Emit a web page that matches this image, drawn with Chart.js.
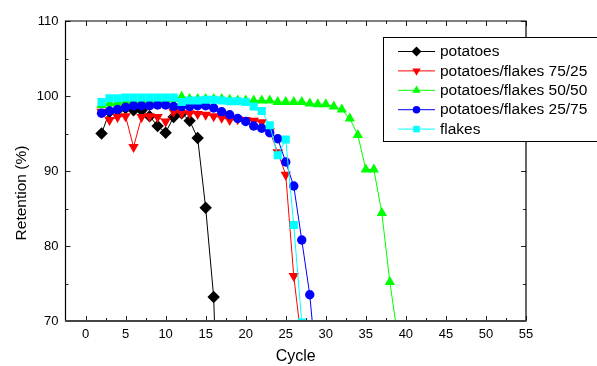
<!DOCTYPE html>
<html>
<head>
<meta charset="utf-8">
<script src="https://cdn.jsdelivr.net/npm/chart.js@4/dist/chart.umd.min.js"></script>
<style>
html,body{margin:0;padding:0;background:#fff;}
canvas{display:block;}
</style>
</head>
<body>
<canvas id="c" width="597" height="366"></canvas>
<script>
// ---- data ----
const seriesNames = ['potatoes', 'potatoes/flakes 75/25', 'potatoes/flakes 50/50', 'potatoes/flakes 25/75', 'flakes'];

const cyclesPotatoes = [2,3,4,5,6,7,8,9,10,11,12,13,14,15,16,17];
const potatoes       = [95.0,97.9,98.1,98.4,98.1,98.1,97.3,96.0,95.1,97.2,97.7,96.7,94.4,85.1,73.2,41.0];

const cycles7525 = [2,3,4,5,6,7,8,9,10,11,12,13,14,15,16,17,18,19,20,21,22,23,24,25,26,27];
const pf7525     = [97.9,96.8,97.2,97.3,93.2,97.2,97.3,97.2,96.6,97.9,97.7,97.7,97.6,97.5,97.3,97.1,96.8,96.9,96.8,96.7,96.5,95.3,92.5,89.5,76.0,67.0];

const cycles5050 = [2,3,4,5,6,7,8,9,10,11,12,13,14,15,16,17,18,19,20,21,22,23,24,25,26,27,28,29,30,31,32,33,34,35,36,37,38,39];
const pf5050     = [98.8,99.0,99.1,99.2,99.3,99.4,99.4,99.5,99.5,99.6,99.9,99.6,99.6,99.6,99.6,99.6,99.5,99.4,99.4,99.4,99.4,99.4,99.2,99.2,99.2,99.2,99.0,98.9,98.9,98.6,98.2,97.0,94.8,90.2,90.2,84.4,75.2,67.8];

const cycles2575 = [2,3,4,5,6,7,8,9,10,11,12,13,14,15,16,17,18,19,20,21,22,23,24,25,26,27,28,29];
const pf2575     = [97.7,98.0,98.2,98.5,98.7,98.7,98.7,98.8,98.8,98.6,98.6,98.6,98.7,98.7,98.4,97.9,97.5,97.0,96.6,96.0,95.7,95.1,94.3,91.2,88.0,80.8,73.5,62.0];

const cyclesFlakes = [2,3,4,5,6,7,8,9,10,11,12,13,14,15,16,17,18,19,20,21,22,23,24,25,26,27];
const flakes       = [99.2,99.7,99.7,99.8,99.8,99.8,99.8,99.8,99.8,99.8,99.2,99.4,99.4,99.5,99.5,99.4,99.3,99.3,99.2,98.6,98.0,96.1,92.1,94.2,82.8,69.8];

const xTickMin = -2.5, xTickMax = 55, xStep = 5;
const yTickMin = 70, yTickMax = 110, yStep = 10;
const xTitle = 'Cycle';
const yTitle = 'Retention (%)';
// --------------------------------------

function pts(xs, ys){ return xs.map((x,i)=>({x:x, y:ys[i]})); }

Chart.defaults.font.family = '"Liberation Sans", Arial, Helvetica, sans-serif';
Chart.defaults.color = '#000';

const styles = [
  {color:'#000000', pointStyle:'rectRot', radius:6.2, rotation:0, order:4},
  {color:'#ff0000', pointStyle:'triangle', radius:6.0, rotation:180, order:3},
  {color:'#00ff00', pointStyle:'triangle', radius:6.0, rotation:0, order:2},
  {color:'#0000ff', pointStyle:'circle', radius:4.7, rotation:0, order:1},
  {color:'#00ffff', pointStyle:'rect', radius:5.8, rotation:0, order:0}
];
const dataSets = [
  pts(cyclesPotatoes, potatoes),
  pts(cycles7525, pf7525),
  pts(cycles5050, pf5050),
  pts(cycles2575, pf2575),
  pts(cyclesFlakes, flakes)
];

const datasets = dataSets.map((d,i)=>({
  label: seriesNames[i],
  data: d,
  borderColor: styles[i].color,
  backgroundColor: styles[i].color,
  pointBackgroundColor: styles[i].color,
  pointBorderColor: styles[i].color,
  pointBorderWidth: 0,
  borderWidth: 1,
  pointStyle: styles[i].pointStyle,
  pointRadius: styles[i].radius,
  pointRotation: styles[i].rotation,
  tension: 0,
  fill: false,
  order: styles[i].order
}));

const framePlugin = {
  id: 'frame',
  afterDatasetsDraw(chart){
    const ctx = chart.ctx;
    const {left, right, top, bottom} = chart.chartArea;
    const xs = chart.scales.x, ys = chart.scales.y;
    ctx.save();
    ctx.strokeStyle = '#222';
    ctx.lineWidth = 1;
    ctx.beginPath();
    for (let v = 0; v <= xTickMax + 1e-9; v += xStep){
      const px = Math.round(xs.getPixelForValue(v)) + 0.5;
      ctx.moveTo(px, bottom); ctx.lineTo(px, bottom - 5);
      ctx.moveTo(px, top); ctx.lineTo(px, top + 5);
    }
    for (let v = xTickMin; v <= xTickMax + 1e-9; v += xStep){
      if (v <= xTickMin) continue;
      const px = Math.round(xs.getPixelForValue(v)) + 0.5;
      ctx.moveTo(px, bottom); ctx.lineTo(px, bottom - 3);
      ctx.moveTo(px, top); ctx.lineTo(px, top + 3);
    }
    for (let v = yTickMin; v <= yTickMax; v += yStep/2){
      const py = Math.round(ys.getPixelForValue(v)) + 0.5;
      const len = (v % yStep === 0) ? 5 : 3;
      ctx.moveTo(left, py); ctx.lineTo(left + len, py);
      ctx.moveTo(right, py); ctx.lineTo(right - len, py);
    }
    ctx.stroke();
    ctx.strokeStyle = '#000';
    ctx.lineWidth = 1.2;
    ctx.beginPath();
    ctx.moveTo(left, bottom); ctx.lineTo(left, top); ctx.lineTo(right, top); ctx.lineTo(right, bottom);
    ctx.stroke();
    ctx.strokeStyle = '#444';
    ctx.lineWidth = 2;
    ctx.beginPath();
    ctx.moveTo(left - 0.5, bottom); ctx.lineTo(right + 0.5, bottom);
    ctx.stroke();
    // y axis title (placed like the reference, slightly below the axis centre)
    ctx.fillStyle = '#000';
    ctx.font = '15.5px "Liberation Sans", Arial, sans-serif';
    ctx.textAlign = 'center';
    ctx.textBaseline = 'middle';
    ctx.translate(22, 193);
    ctx.rotate(-Math.PI / 2);
    ctx.fillText(yTitle, 0, 0);
    ctx.restore();
  }
};

const legendPlugin = {
  id: 'boxLegend',
  afterDraw(chart){
    const ctx = chart.ctx;
    ctx.save();
    const bx = 383.5, by = 37.5, bw = 240, bh = 104;
    ctx.fillStyle = '#fff';
    ctx.fillRect(bx, by, bw, bh);
    ctx.strokeStyle = '#000';
    ctx.lineWidth = 1;
    ctx.strokeRect(bx, by, bw, bh);
    ctx.font = '15.5px "Liberation Sans", Arial, sans-serif';
    ctx.textBaseline = 'middle';
    ctx.textAlign = 'left';
    chart.data.datasets.forEach((ds, i) => {
      const y = 51.5 + i * 19.4;
      ctx.strokeStyle = ds.borderColor;
      ctx.lineWidth = 1;
      ctx.beginPath();
      ctx.moveTo(398, y); ctx.lineTo(435, y);
      ctx.stroke();
      ctx.fillStyle = ds.pointBackgroundColor;
      Chart.helpers.drawPoint(ctx, {
        pointStyle: ds.pointStyle,
        radius: ds.pointRadius * 0.8,
        rotation: ds.pointRotation,
        borderWidth: 0
      }, 416.5, y);
      ctx.fillStyle = '#000';
      ctx.fillText(ds.label, 440, y + 0.5);
    });
    ctx.restore();
  }
};

new Chart(document.getElementById('c'), {
  type: 'line',
  data: { datasets: datasets },
  options: {
    responsive: false,
    animation: false,
    events: [],
    layout: { padding: { top: 21, right: 71, left: 0, bottom: 0 } },
    plugins: { legend: { display: false }, tooltip: { enabled: false } },
    scales: {
      x: {
        type: 'linear',
        min: xTickMin, max: xTickMax,
        afterFit(s){ s.height = 45; },
        grid: { display: false, drawTicks: false },
        border: { display: false },
        ticks: {
          stepSize: xStep, includeBounds: false, padding: 6,
          font: { size: 13 }, color: '#000', maxRotation: 0, autoSkip: false,
          callback: v => (v % 5 === 0 ? String(v) : '')
        },
        title: { display: true, text: xTitle, font: { size: 16 }, color: '#000', padding: { top: 0, bottom: 0 } }
      },
      y: {
        type: 'linear',
        min: yTickMin, max: yTickMax,
        afterFit(s){ s.width = 65.5; },
        grid: { display: false, drawTicks: false },
        border: { display: false },
        ticks: { stepSize: yStep, padding: 7, font: { size: 13 }, color: '#000' },
        title: { display: false }
      }
    }
  },
  plugins: [framePlugin, legendPlugin]
});
</script>
</body>
</html>
